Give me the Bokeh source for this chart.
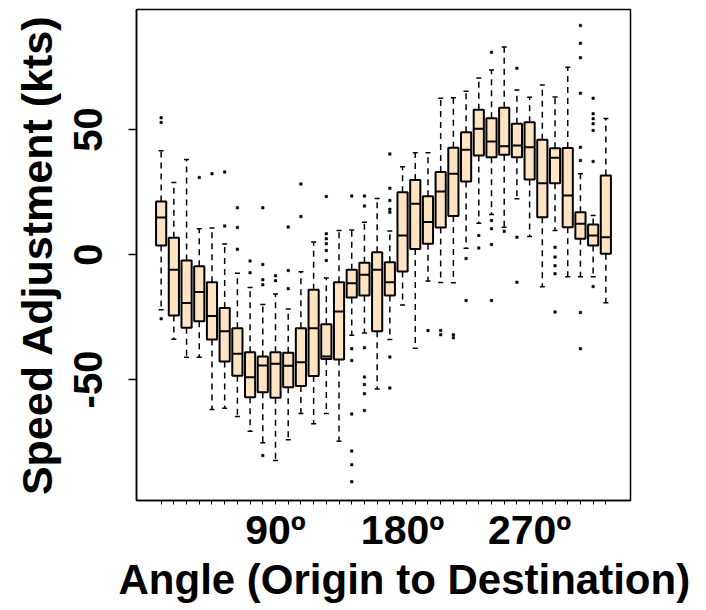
import numpy as np
from bokeh.plotting import figure
from bokeh.models import FixedTicker, Title
from bokeh.embed import file_html
from bokeh.resources import INLINE

# ---- data ----
positions = list(range(1, 37))
whisker_low = [-22.1, -33.9, -41.1, -41.1, -62.0, -61.5, -64.8, -70.7, -75.3, -82.4,
               -74.1, -63.6, -67.7, -63.6, -74.7, -32.3, -31.4, -53.8, -34.0, -20.2,
               -37.5, -10.6, -11.2, -11.3, 2.5, 12.5, 16.0, 10.9, 22.3, 7.2,
               -12.9, 9.6, -8.9, -8.9, -8.9, -19.3]
q1 = [3.6, -24.4, -29.3, -26.7, -34.0, -42.8, -48.5, -57.1, -55.1, -57.3,
      -53.1, -52.6, -48.6, -41.8, -42.0, -17.2, -16.4, -30.7, -16.4, -6.8,
      2.2, 4.3, 10.8, 15.4, 29.2, 39.6, 38.9, 39.9, 38.9, 30.0,
      14.9, 28.5, 10.9, 6.3, 3.6, 0.3]
median = [14.8, -6.1, -19.4, -15.0, -24.6, -30.7, -39.7, -49.1, -44.4, -43.7,
          -44.5, -43.1, -29.5, -40.8, -22.8, -11.5, -8.1, -6.1, -11.1, 7.6,
          20.3, 13.0, 25.2, 32.3, 41.9, 50.3, 45.2, 43.3, 43.6, 42.9,
          28.5, 38.7, 23.6, 12.3, 7.6, 6.9]
q3 = [21.2, 6.7, -2.4, -4.7, -11.1, -21.4, -29.5, -39.1, -40.8, -39.1,
      -39.3, -29.5, -14.1, -27.9, -11.1, -6.1, -3.3, 0.9, -3.1, 24.9,
      29.8, 23.3, 33.0, 42.7, 48.9, 57.9, 54.5, 58.7, 52.3, 52.9,
      45.9, 42.5, 42.6, 16.9, 12.0, 31.6]
whisker_high = [41.5, 28.8, 38.0, 10.3, 10.6, 4.2, -7.5, -13.2, -20.0, -15.8,
                -21.8, -6.9, 5.0, -9.4, 9.6, 9.8, 12.9, 22.4, 9.4, 35.1,
                40.7, 40.7, 62.5, 62.7, 65.3, 70.6, 73.8, 83.0, 65.8, 62.9,
                67.8, 63.0, 74.9, 32.3, 15.6, 54.4]
outliers = [
    [54.7, 52.8, -25.7], [], [], [30.8], [32.3], [33.0, 11.4], [18.7, 10.8, 2.1],
    [-2.6, -7.3], [18.7, -4.0, -10.1, -12.1, -80.4], [-8.5, -10.5],
    [11.0, -6.4, -13.7], [28.2, 15.2], [], [23.2, 8.3, 6.3, 4.3, 1.6, -2.4], [],
    [23.4, -37.7, -42.4, -63.8, -78.6, -84.1, -90.9],
    [23.4, 19.4, -37.3, -49.0, -52.0, -55.7, -62.4], [],
    [40.2, 26.5, 21.6, 18.1, 16.9, -41.0, -53.4], [], [], [-30.4], [-30.4, -32.1],
    [-32.1, -33.3], [-1.6, -18.4], [7.6, 2.6], [80.9, 13.6, 10.3, 4.0, -18.4], [9.3],
    [74.5, 6.9, -11.1], [], [], [2.9, -1.0, -4.5, -7.7, -23.0], [],
    [91.6, 84.5, 78.7, 64.5, 42.9, 37.6, -23.2, -37.7],
    [62.5, 56.3, 54.3, 52.3, 49.6, 37.2, -12.8], [],
]
x_tick_positions = [10, 20, 30]
x_tick_labels = ["90º", "180º", "270º"]
y_ticks = [-50, 0, 50]
y_tick_labels = ["-50", "0", "50"]
x_title = "Angle (Origin to Destination)"
y_title = "Speed Adjustment (kts)"

out_x = [pos for pos, vals in zip(positions, outliers) for _ in vals]
out_y = [v for vals in outliers for v in vals]

FONT = "Liberation Sans"
BOX_FILL = "#FFE4C4"
X_RANGE = (-0.94, 37.94)
Y_RANGE = (-98.4, 98.0)

p = figure(width=698, height=610,
           x_range=X_RANGE, y_range=Y_RANGE,
           output_backend="svg", toolbar_location=None,
           min_border_left=136, min_border_right=68,
           min_border_top=9, min_border_bottom=110)

p.grid.visible = False
p.outline_line_color = "black"
p.outline_line_width = 1.5
p.background_fill_color = "white"
p.border_fill_color = "white"

# whiskers (dashed)
p.segment(x0=positions, y0=q3, x1=positions, y1=whisker_high,
          line_color="black", line_width=1.5, line_dash="6 5")
p.segment(x0=positions, y0=q1, x1=positions, y1=whisker_low,
          line_color="black", line_width=1.5, line_dash="6 5")
# staples
p.scatter(x=positions, y=whisker_high, marker="dash", size=5,
          line_color="black", line_width=1.5)
p.scatter(x=positions, y=whisker_low, marker="dash", size=5,
          line_color="black", line_width=1.5)
# boxes
p.vbar(x=positions, width=0.8, bottom=q1, top=q3,
       fill_color=BOX_FILL, line_color="black", line_width=2)
# medians
p.scatter(x=positions, y=median, marker="dash", size=10,
          line_color="black", line_width=2.2)
# outliers
p.scatter(x=out_x, y=out_y, marker="square", size=2.5,
          fill_color="black", line_color="black", line_width=0.5)

# x axis
xa = p.xaxis[0]
xa.ticker = FixedTicker(ticks=positions)
overrides = {pos: "" for pos in positions}
for pos, lab in zip(x_tick_positions, x_tick_labels):
    overrides[pos] = lab
xa.major_label_overrides = overrides
xa.minor_tick_line_color = None
xa.major_tick_in = 0
xa.major_tick_out = 4
xa.major_tick_line_width = 1
xa.axis_line_width = 1.5
xa.major_label_text_font = FONT
xa.major_label_text_font_style = "bold"
xa.major_label_text_font_size = "41px"
xa.major_label_text_color = "black"
xa.major_label_standoff = 2

# x title below the axis, offset as in the reference
p.add_layout(Title(text=x_title, align="left", offset=-18, standoff=-4,
                   text_font=FONT, text_font_style="bold",
                   text_font_size="42px", text_color="black"), "below")

# y axis
ya = p.yaxis[0]
ya.ticker = FixedTicker(ticks=y_ticks)
ya.major_label_overrides = dict(zip(y_ticks, y_tick_labels))
ya.minor_tick_line_color = None
ya.major_tick_in = 0
ya.major_tick_out = 8
ya.major_tick_line_width = 1.5
ya.axis_line_width = 1.5
ya.major_label_orientation = "parallel"
ya.major_label_text_font = FONT
ya.major_label_text_font_style = "bold"
ya.major_label_text_font_size = "40px"
ya.major_label_text_color = "black"
ya.major_label_standoff = 27
ya.axis_label = y_title
ya.axis_label_text_font = FONT
ya.axis_label_text_font_style = "bold"
ya.axis_label_text_font_size = "43px"
ya.axis_label_text_color = "black"
ya.axis_label_standoff = 10

open("out.html", "w").write(file_html(p, INLINE))
